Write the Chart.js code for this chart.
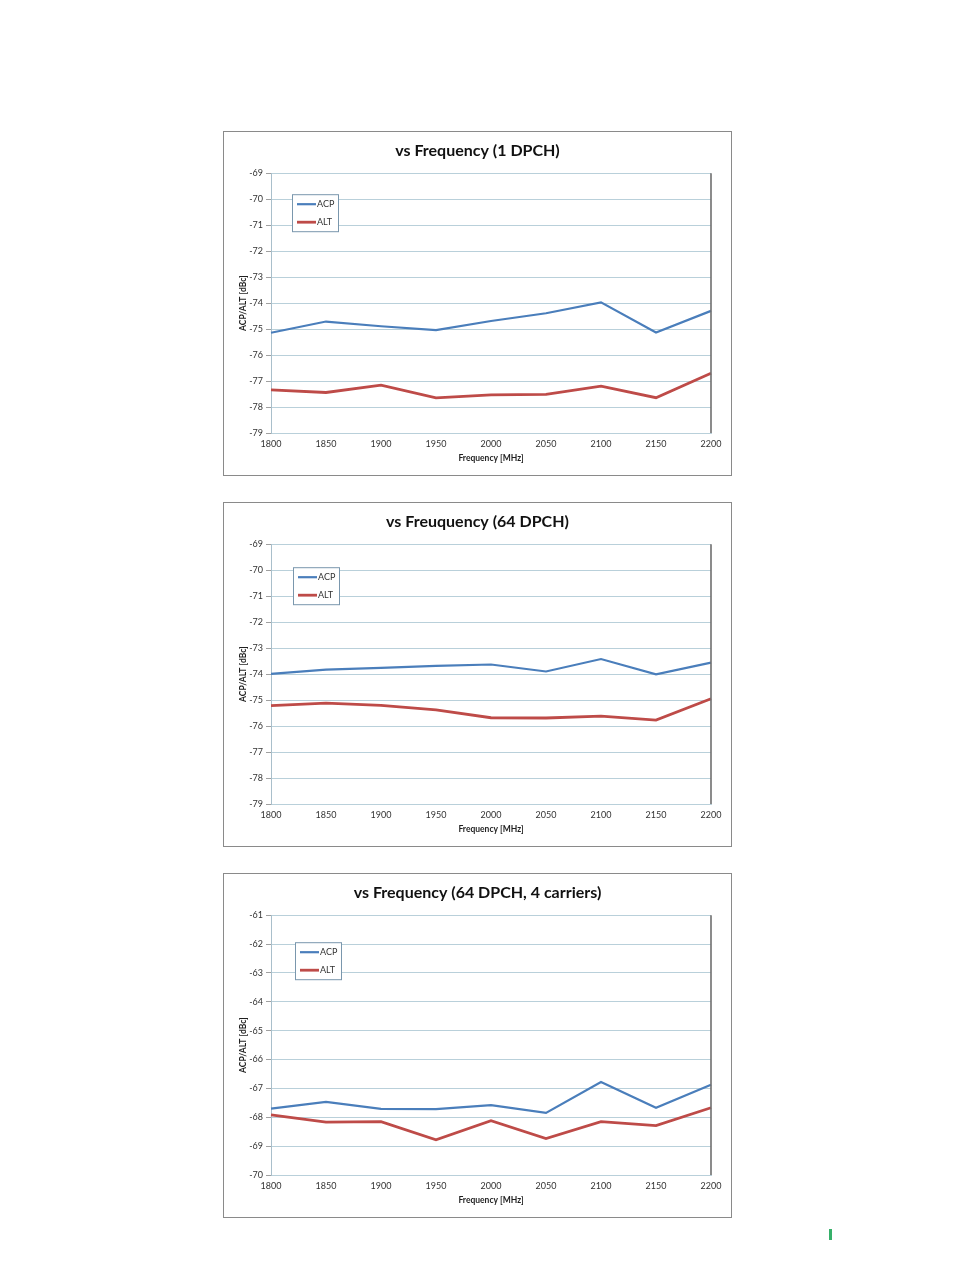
<!DOCTYPE html>
<html>
<head>
<meta charset="utf-8">
<script src="https://cdn.jsdelivr.net/npm/chart.js@4"></script>
<style>
  body { margin: 0; background: #fff; width: 954px; height: 1268px; position: relative; }
  .caja { position: absolute; left: 223px; width: 509px; height: 345px; border: 1px solid #8a8a8a; box-sizing: border-box; background: #fff; }
  .caja canvas { display: block; }
  .marca { position: absolute; left: 829px; top: 1229px; width: 3px; height: 11px; background: #36b06a; }
</style>
</head>
<body>
<div class="caja" style="top:131px"><canvas id="g1" width="507" height="343"></canvas></div>
<div class="caja" style="top:502px"><canvas id="g2" width="507" height="343"></canvas></div>
<div class="caja" style="top:873px"><canvas id="g3" width="507" height="343"></canvas></div>
<div class="marca"></div>
<script>
// datos
const frecuencias = ['1800', '1850', '1900', '1950', '2000', '2050', '2100', '2150', '2200'];

const acp1 = [-75.14, -74.71, -74.89, -75.04, -74.69, -74.39, -73.97, -75.13, -74.30];
const alt1 = [-77.34, -77.44, -77.16, -77.65, -77.53, -77.51, -77.20, -77.64, -76.70];

const acp2 = [-73.99, -73.83, -73.76, -73.68, -73.63, -73.90, -73.42, -74.01, -73.56];
const alt2 = [-75.21, -75.12, -75.20, -75.38, -75.68, -75.69, -75.62, -75.77, -74.95];

const acp3 = [-67.70, -67.47, -67.71, -67.72, -67.58, -67.85, -66.78, -67.67, -66.87];
const alt3 = [-67.92, -68.17, -68.15, -68.78, -68.12, -68.74, -68.15, -68.29, -67.67];

const titulos = ['vs Frequency (1 DPCH)', 'vs Freuquency (64 DPCH)', 'vs Frequency (64 DPCH, 4 carriers)'];
const rangosY = [[-79, -69], [-79, -69], [-70, -61]];

const AZUL = '#4a7ebb';
const ROJO = '#be4b48';
const REJILLA = '#b9d0da';
const FUENTE = 'Lato, "Open Sans", sans-serif';

// leyenda dentro del area del grafico + linea derecha oscura
const leyendaInterna = {
    id: 'leyendaInterna',
    afterDatasetsDraw(chart, args, opts) {
        const { ctx, chartArea } = chart;
        ctx.save();
        // borde derecho
        ctx.strokeStyle = '#6f6f6f';
        ctx.lineWidth = 1.6;
        ctx.beginPath();
        ctx.moveTo(chartArea.right, chartArea.top);
        ctx.lineTo(chartArea.right, chartArea.bottom);
        ctx.stroke();

        const x = chartArea.left + opts.dx;
        const y = chartArea.top + opts.dy;
        const w = 46, h = 37;
        ctx.fillStyle = '#fff';
        ctx.fillRect(x, y, w, h);
        ctx.strokeStyle = '#7a97ad';
        ctx.lineWidth = 1;
        ctx.strokeRect(x + 0.5, y + 0.5, w, h);

        ctx.font = '9px ' + FUENTE;
        ctx.textBaseline = 'middle';
        chart.data.datasets.forEach((ds, i) => {
            const ly = y + 10 + i * 18;
            ctx.strokeStyle = ds.borderColor;
            ctx.lineWidth = ds.borderWidth;
            ctx.beginPath();
            ctx.moveTo(x + 5, ly);
            ctx.lineTo(x + 24, ly);
            ctx.stroke();
            ctx.fillStyle = '#333';
            ctx.fillText(ds.label, x + 25, ly);
        });
        ctx.restore();
    }
};

function crearGrafica(id, titulo, acp, alt, rango, dx, dy) {
    const ctx = document.getElementById(id).getContext('2d');
    return new Chart(ctx, {
        type: 'line',
        data: {
            labels: frecuencias,
            datasets: [
                { label: 'ACP', data: acp, borderColor: AZUL, borderWidth: 2.2, pointRadius: 0, tension: 0, fill: false },
                { label: 'ALT', data: alt, borderColor: ROJO, borderWidth: 2.8, pointRadius: 0, tension: 0, fill: false }
            ]
        },
        plugins: [leyendaInterna],
        options: {
            responsive: false,
            animation: false,
            layout: { padding: 0 },
            plugins: {
                legend: { display: false },
                tooltip: { enabled: false },
                title: {
                    display: true,
                    text: titulo,
                    color: '#111',
                    font: { family: FUENTE, size: 16, weight: 'bold', lineHeight: 1.2 },
                    padding: { top: 9, bottom: 13 }
                },
                leyendaInterna: { dx: dx, dy: dy }
            },
            scales: {
                x: {
                    afterFit: s => { s.height = 42; },
                    grid: { display: false, drawTicks: false },
                    border: { display: true, color: REJILLA, width: 1 },
                    ticks: { color: '#333', font: { family: FUENTE, size: 9 }, padding: 6, maxRotation: 0, autoSkip: false },
                    title: {
                        display: true,
                        text: 'Frequency [MHz]',
                        color: '#1f1f1f',
                        font: { family: FUENTE, size: 8.5, weight: 'bold' },
                        padding: { top: 0, bottom: 12 }
                    }
                },
                y: {
                    min: rango[0],
                    max: rango[1],
                    afterFit: s => { s.width = 47; },
                    grid: { color: REJILLA, lineWidth: 1, tickLength: 5, tickColor: '#a0a0a0' },
                    border: { display: true, color: '#a9bfcb', width: 1 },
                    ticks: { stepSize: 1, color: '#333', font: { family: FUENTE, size: 9 }, padding: 3 },
                    title: {
                        display: true,
                        text: 'ACP/ALT [dBc]',
                        color: '#1f1f1f',
                        font: { family: FUENTE, size: 8.5, weight: 'bold' },
                        padding: { top: 14, bottom: 0 }
                    }
                },
                // eje vacio a la derecha para dejar el margen sin descentrar el titulo
                margen: {
                    position: 'right',
                    display: true,
                    afterFit: s => { s.width = 20; },
                    grid: { display: false },
                    border: { display: false },
                    ticks: { display: false }
                }
            }
        }
    });
}

crearGrafica('g1', titulos[0], acp1, alt1, rangosY[0], 21, 21);
crearGrafica('g2', titulos[1], acp2, alt2, rangosY[1], 22, 23);
crearGrafica('g3', titulos[2], acp3, alt3, rangosY[2], 24, 27);
</script>
</body>
</html>
